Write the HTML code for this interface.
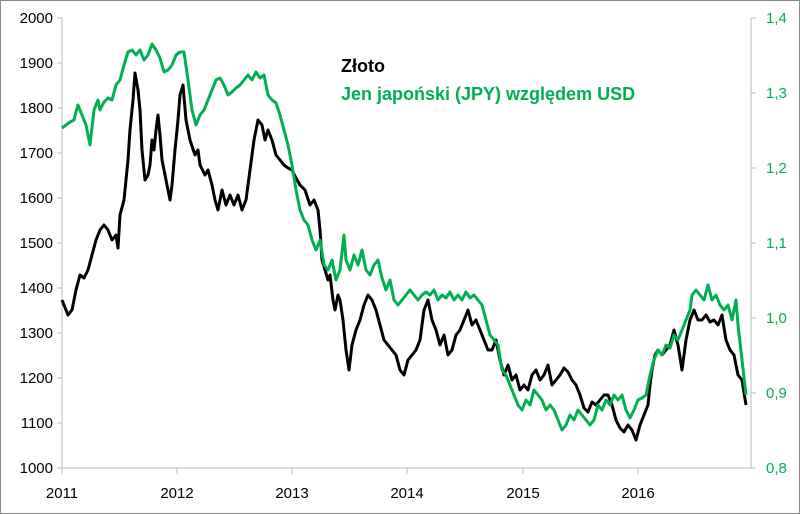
<!DOCTYPE html><html><head><style>body{margin:0;background:#fff}svg{display:block}text{font-family:"Liberation Sans",sans-serif;font-size:15px}</style></head><body>
<svg width="800" height="514" viewBox="0 0 800 514">
<rect x="0.5" y="0.5" width="799" height="513" fill="#fff" stroke="#888"/>
<g stroke="#bbb" fill="none">
<line x1="62" y1="18" x2="62" y2="468"/><line x1="751" y1="18" x2="751" y2="468"/><line x1="62" y1="468" x2="751" y2="468"/>
<path d="M57 18h5M57 63h5M57 108h5M57 153h5M57 198h5M57 243h5M57 288h5M57 333h5M57 378h5M57 423h5M57 468h5"/>
<path d="M751 18h5M751 93h5M751 168h5M751 243h5M751 318h5M751 393h5M751 468h5"/>
<path d="M62 468v6M177 468v6M292 468v6M407 468v6M523 468v6M638 468v6"/>
</g>
<g text-anchor="end" fill="#000">
<text x="53" y="23">2000</text><text x="53" y="68">1900</text><text x="53" y="113">1800</text><text x="53" y="158">1700</text><text x="53" y="203">1600</text><text x="53" y="248">1500</text><text x="53" y="293">1400</text><text x="53" y="338">1300</text><text x="53" y="383">1200</text><text x="53" y="428">1100</text><text x="53" y="473">1000</text>
</g>
<g fill="#00b050">
<text x="766" y="23">1,4</text><text x="766" y="98">1,3</text><text x="766" y="173">1,2</text><text x="766" y="248">1,1</text><text x="766" y="323">1,0</text><text x="766" y="398">0,9</text><text x="766" y="473">0,8</text>
</g>
<g text-anchor="middle"><text x="62" y="498">2011</text><text x="177" y="498">2012</text><text x="292" y="498">2013</text><text x="407" y="498">2014</text><text x="523" y="498">2015</text><text x="638" y="498">2016</text></g>
<text x="341" y="72" style="font-size:18px;font-weight:bold">Złoto</text>
<text x="341" y="100" style="font-size:18px;font-weight:bold" fill="#00b050">Jen japoński (JPY) względem USD</text>
<polyline fill="none" stroke="#000" stroke-width="3" stroke-linejoin="round" points="62,300 68,315 72,310 76,290 80,275 84,278 88,270 92,255 96,240 100,230 104,225 108,230 112,240 116,235 118,248 120,215 124,200 128,160 130,130 133,100 135,73 138,90 140,110 142,150 145,180 148,175 150,165 152,140 154,150 156,130 158,115 160,135 162,160 165,175 168,190 170,200 172,185 175,150 178,120 180,95 183,85 186,120 190,140 195,155 198,150 200,165 205,175 208,170 212,185 215,200 218,210 222,190 226,205 230,195 234,205 238,195 242,210 246,200 250,170 254,140 258,120 262,125 265,140 268,130 272,140 276,155 280,160 284,165 288,168 292,170 296,178 300,185 305,190 310,205 314,200 318,210 320,230 322,260 325,270 328,280 330,275 333,300 335,310 338,295 340,300 343,320 346,350 349,370 352,345 356,330 360,320 364,305 368,295 372,300 376,310 380,325 384,340 388,345 392,350 396,355 400,370 404,375 408,360 412,355 416,350 420,340 424,310 428,300 432,320 436,330 440,345 444,335 448,355 452,350 456,335 460,330 464,320 468,310 472,325 476,320 480,330 484,340 488,350 492,350 496,340 500,360 504,375 508,365 512,380 516,375 520,390 524,385 528,390 532,375 536,370 540,380 544,375 548,365 552,385 556,380 560,375 564,368 568,372 572,380 576,385 580,395 584,408 588,412 592,402 596,405 600,400 604,395 608,395 612,405 616,420 620,428 624,432 628,425 632,430 636,440 640,425 644,415 648,405 650,385 652,370 655,355 658,350 662,355 666,350 670,345 674,330 678,345 682,370 686,340 690,320 694,310 698,320 702,320 706,315 710,322 714,320 718,325 722,315 726,340 730,350 734,355 738,375 742,380 746,405"/>
<polyline fill="none" stroke="#00b050" stroke-width="3" stroke-linejoin="round" points="62,128 66,125 70,122 74,120 76,112 78,105 82,115 86,125 90,145 94,110 98,100 100,110 104,102 108,98 112,100 116,85 120,80 124,65 128,52 132,50 136,55 140,50 144,60 148,55 152,44 156,50 160,58 164,72 168,70 172,65 176,55 180,52 184,52 188,80 192,110 196,125 200,115 204,110 208,100 212,90 216,80 220,78 224,85 228,95 232,92 236,88 240,85 244,80 248,75 252,80 256,72 260,78 264,75 268,95 272,100 276,103 280,115 284,130 288,145 292,165 296,190 300,210 304,220 308,225 312,240 316,250 320,240 324,265 328,270 332,260 336,280 340,270 344,235 346,260 350,270 354,255 358,265 362,250 366,270 370,275 374,265 378,260 382,278 386,290 390,280 394,300 398,305 402,300 406,295 410,290 414,295 418,300 422,295 426,292 430,295 434,290 438,300 442,295 446,298 450,292 454,300 458,295 462,300 466,292 470,298 474,295 478,300 482,305 486,320 490,335 494,340 498,345 502,370 506,375 510,385 514,395 518,405 522,410 526,400 530,405 534,390 538,395 542,400 546,410 550,405 554,410 558,420 562,430 566,425 570,415 574,420 578,410 582,415 586,420 590,425 594,420 598,405 602,410 606,400 610,405 614,395 618,400 622,395 626,410 630,418 634,410 638,400 642,398 646,395 650,375 654,360 658,350 662,355 666,345 670,348 674,335 678,340 682,330 686,320 690,310 692,295 696,290 700,295 704,300 708,285 712,300 716,295 720,305 724,310 728,305 732,320 736,300 738,325 742,360 746,395"/>
</svg></body></html>
